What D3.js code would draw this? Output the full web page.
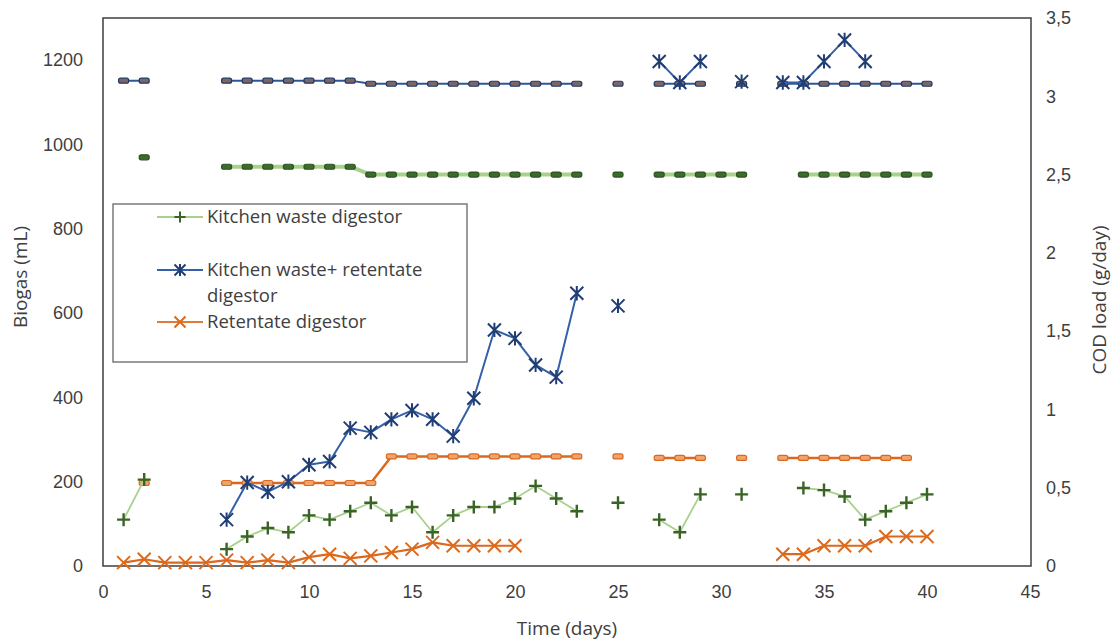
<!DOCTYPE html>
<html>
<head>
<meta charset="utf-8">
<script src="https://cdn.jsdelivr.net/npm/d3@7"></script>
<style>
  html, body { margin: 0; padding: 0; background: #fff; }
  svg { display: block; font-family: "Open Sans", "Noto Sans", sans-serif; }
</style>
</head>
<body>
<svg id="chart" width="1115" height="641"></svg>
<script>
// Day index for every series (null = no measurement that day)
const days = [1,2,3,4,5,6,7,8,9,10,11,12,13,14,15,16,17,18,19,20,
              21,22,23,24,25,26,27,28,29,30,31,32,33,34,35,36,37,38,39,40];

// Daily biogas production (mL), left axis
const kitchenBiogas = [110,205,null,null,null,40,70,90,80,120,110,130,150,120,140,80,120,140,140,160,
                       190,160,130,null,150,null,110,80,170,null,170,null,null,185,180,165,110,130,150,170];
const mixBiogas = [null,null,null,null,null,110,198,176,200,240,248,327,317,348,369,348,308,398,560,540,
                   477,448,647,null,617,null,1197,1147,1197,null,1149,null,1147,1147,1197,1248,1197,null,null,null];
const retentateBiogas = [8,16,8,8,8,14,8,14,8,21,28,18,24,32,40,56,48,48,48,48,
                         null,null,null,null,null,null,null,null,null,null,null,null,28,28,48,48,48,70,70,70];

// COD load (g/day), right axis
const mixCod = [3.10,3.10,null,null,null,3.10,3.10,3.10,3.10,3.10,3.10,3.10,3.08,3.08,3.08,3.08,3.08,3.08,3.08,3.08,
                3.08,3.08,3.08,null,3.08,null,3.08,3.08,3.08,null,3.08,null,3.08,3.08,3.08,3.08,3.08,3.08,3.08,3.08];
const kitchenCod = [null,2.61,null,null,null,2.55,2.55,2.55,2.55,2.55,2.55,2.55,2.50,2.50,2.50,2.50,2.50,2.50,2.50,2.50,
                    2.50,2.50,2.50,null,2.50,null,2.50,2.50,2.50,2.50,2.50,null,null,2.50,2.50,2.50,2.50,2.50,2.50,2.50];
const retentateCod = [null,0.53,null,null,null,0.53,0.53,0.53,0.53,0.53,0.53,0.53,0.53,0.70,0.70,0.70,0.70,0.70,0.70,0.70,
                      0.70,0.70,0.70,null,0.70,null,0.69,0.69,0.69,null,0.69,null,0.69,0.69,0.69,0.69,0.69,0.69,0.69,null];

// Axis ticks
const xTicks = [0,5,10,15,20,25,30,35,40,45];
const leftTicks = [0,200,400,600,800,1000,1200];
const rightTicks = [0,0.5,1,1.5,2,2.5,3,3.5];

const legendLabels = [["Kitchen waste digestor"], ["Kitchen waste+ retentate", "digestor"], ["Retentate digestor"]];

const svg = d3.select("#chart");
const plot = { left: 103, right: 1031, top: 18, bottom: 566 };

const x = d3.scaleLinear().domain([0, 45]).range([plot.left, plot.right - 1]);
const yL = d3.scaleLinear().domain([0, 1300]).range([plot.bottom, plot.top]);
const yR = d3.scaleLinear().domain([0, 3.5]).range([plot.bottom, plot.top]);

const textColor = "#404040";

// Plot frame
svg.append("rect")
  .attr("x", plot.left).attr("y", plot.top)
  .attr("width", plot.right - plot.left).attr("height", plot.bottom - plot.top)
  .attr("fill", "none").attr("stroke", "#4a4a4a").attr("stroke-width", 1.6);

// Axes
function styleAxis(g) {
  g.select(".domain").remove();
  g.selectAll("text").attr("fill", textColor).style("font-size", "18px");
}
svg.append("g").attr("transform", `translate(${plot.left},0)`)
  .call(d3.axisLeft(yL).tickValues(leftTicks).tickSize(0).tickPadding(20).tickFormat(d3.format("d")))
  .call(styleAxis);
svg.append("g").attr("transform", `translate(${plot.right},0)`)
  .call(d3.axisRight(yR).tickValues(rightTicks).tickSize(0).tickPadding(15)
        .tickFormat(d => String(d).replace(".", ",")))
  .call(styleAxis);
svg.append("g").attr("transform", `translate(0,${plot.bottom})`)
  .call(d3.axisBottom(x).tickValues(xTicks).tickSize(0).tickPadding(19))
  .call(styleAxis);

// Axis titles
svg.append("text").attr("transform", "translate(27,277) rotate(-90)")
  .attr("text-anchor", "middle").attr("fill", textColor).style("font-size", "19px").text("Biogas (mL)");
svg.append("text").attr("transform", "translate(1106,300) rotate(-90)")
  .attr("text-anchor", "middle").attr("fill", textColor).style("font-size", "19px").text("COD load (g/day)");
svg.append("text").attr("x", 567).attr("y", 635)
  .attr("text-anchor", "middle").attr("fill", textColor).style("font-size", "19px").text("Time (days)");

// Helpers
function allPoints(values) {
  return days.map((d, i) => ({ day: d, v: values[i] }));
}
function pts(values) {
  return allPoints(values).filter(p => p.v != null);
}
function drawLine(values, yScale, color, width) {
  const line = d3.line().defined(p => p.v != null).x(p => x(p.day)).y(p => yScale(p.v));
  svg.append("path").datum(allPoints(values))
    .attr("d", line).attr("fill", "none")
    .attr("stroke", color).attr("stroke-width", width).attr("stroke-linejoin", "round");
}
function drawRects(values, yScale, fill, stroke) {
  svg.append("g").selectAll("rect").data(pts(values)).join("rect")
    .attr("x", p => x(p.day) - 5).attr("y", p => yScale(p.v) - 2.5)
    .attr("width", 10).attr("height", 5).attr("rx", 2)
    .attr("fill", fill).attr("stroke", stroke).attr("stroke-width", 1.2);
}
const markerPaths = {
  plus: s => `M${-s},0H${s}M0,${-s}V${s}`,
  cross: s => `M${-s},${-s}L${s},${s}M${-s},${s}L${s},${-s}`,
  star: s => `M${-s},${-s}L${s},${s}M${-s},${s}L${s},${-s}M0,${-s * 1.1}V${s * 1.1}`
};
function drawMarkers(values, yScale, kind, size, color, width) {
  svg.append("g").selectAll("path").data(pts(values)).join("path")
    .attr("transform", p => `translate(${x(p.day)},${yScale(p.v)})`)
    .attr("d", markerPaths[kind](size)).attr("fill", "none")
    .attr("stroke", color).attr("stroke-width", width);
}

// COD load series (right axis)
drawLine(kitchenCod, yR, "#a9d18e", 4);
drawRects(kitchenCod, yR, "#3d6b2a", "#2e5320");
drawLine(mixCod, yR, "#2f5597", 2);
drawRects(mixCod, yR, "#7a6668", "#203864");
drawLine(retentateCod, yR, "#d9691f", 2.5);
drawRects(retentateCod, yR, "#f0a36a", "#d9691f");

// Biogas series (left axis)
drawLine(kitchenBiogas, yL, "#a9d18e", 1.8);
drawMarkers(kitchenBiogas, yL, "plus", 6.5, "#3a6326", 2.4);
drawLine(mixBiogas, yL, "#3560a8", 2);
drawMarkers(mixBiogas, yL, "star", 6.5, "#203e74", 2);
drawLine(retentateBiogas, yL, "#d9691f", 2.2);
drawMarkers(retentateBiogas, yL, "cross", 6.5, "#dd6a1c", 2);

// Legend
const lg = svg.append("g");
lg.append("rect").attr("x", 113).attr("y", 204).attr("width", 354).attr("height", 158)
  .attr("fill", "#fff").attr("stroke", "#7a7a7a").attr("stroke-width", 1.5);
const legendItems = [
  { y: 217, color: "#a9d18e", mcolor: "#3a6326", kind: "plus" },
  { y: 270, color: "#3560a8", mcolor: "#203e74", kind: "star" },
  { y: 322, color: "#e07a3a", mcolor: "#dd6a1c", kind: "cross" }
];
legendItems.forEach((it, i) => {
  lg.append("line").attr("x1", 157).attr("x2", 203).attr("y1", it.y).attr("y2", it.y)
    .attr("stroke", it.color).attr("stroke-width", 1.8);
  lg.append("path").attr("transform", `translate(180,${it.y})`)
    .attr("d", markerPaths[it.kind](5.5)).attr("fill", "none")
    .attr("stroke", it.mcolor).attr("stroke-width", 2);
  legendLabels[i].forEach((t, j) => {
    lg.append("text").attr("x", 207).attr("y", it.y + j * 26).attr("dy", "0.35em")
      .attr("fill", textColor).style("font-size", "18.5px").text(t);
  });
});
</script>
</body>
</html>
